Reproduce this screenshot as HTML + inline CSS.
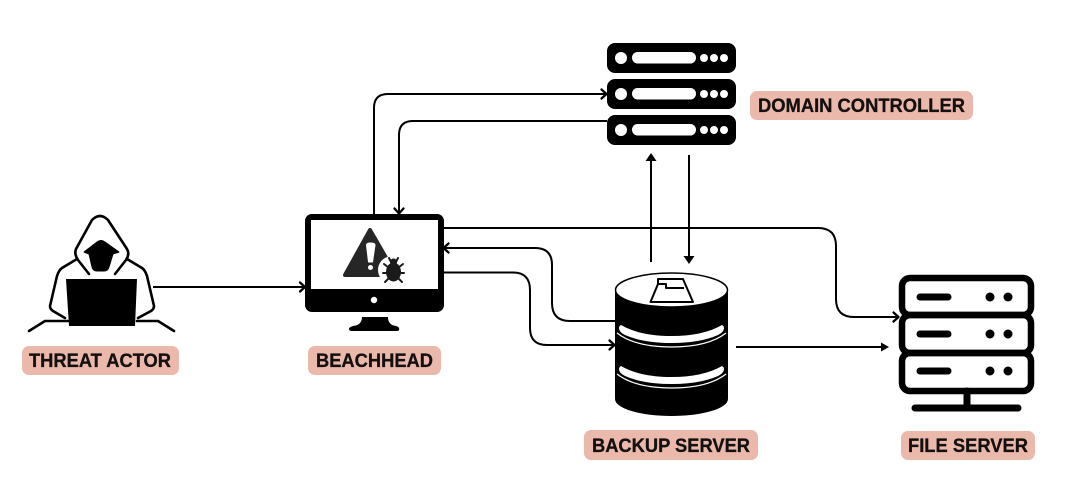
<!DOCTYPE html>
<html><head><meta charset="utf-8"><style>
html,body{margin:0;padding:0;background:#fff;width:1080px;height:503px;overflow:hidden}
svg{display:block}
text{font-family:"Liberation Sans",sans-serif;font-weight:700;font-size:19px;fill:#141010;stroke:#141010;stroke-width:.3;text-anchor:start}
.c{fill:none;stroke:#000;stroke-width:2}
.h{fill:none;stroke:#000;stroke-width:2.300;stroke-linecap:round;stroke-linejoin:round}
.o{fill:none;stroke:#000;stroke-width:2.600;stroke-linecap:round;stroke-linejoin:round}
</style></head><body>
<svg width="1080" height="503" viewBox="0 0 1080 503" xmlns="http://www.w3.org/2000/svg">
<rect width="1080" height="503" fill="#fff"/>

<!-- connectors -->
<path class="c" d="M153 287H304"/><path class="h" d="M300 282.500l5 4.500-5 4.500"/>
<path class="c" d="M374 214V108Q374 94 388 94H606"/><path class="h" d="M601.500 89.500l5 4.500-5 4.500"/>
<path class="c" d="M607 121H413Q399 121 399 135V213"/><path class="h" d="M394.500 208.500l4.500 5 4.500-5"/>
<path class="c" d="M651 262V158"/><path d="M651 153l-5.500 8h11z"/>
<path class="c" d="M689 155V259"/><path d="M689 264l-5.500-8h11z"/>
<path class="c" d="M443 228H818Q836 228 836 246V299Q836 317 854 317H898"/><path class="h" d="M893.500 312.500l5 4.500-5 4.500"/>
<path class="c" d="M615 321H570Q552 321 552 303V265Q552 248 535 248H444"/><path class="h" d="M448.500 243.500l-5 4.500 5 4.500"/>
<path class="c" d="M443 272.500H513Q530 272.500 530 290V328Q530 345 547 345H614"/><path class="h" d="M609.500 340.500l5 4.500-5 4.500"/>
<path class="c" d="M736 347H884"/><path d="M889 347l-8-4.500v9z"/>

<!-- threat actor -->
<path class="o" d="M89 274L78 260Q74 254 76 249L92 220Q100 212 108 220L127 249Q130 254 126 260L115 274"/>
<path class="o" d="M77 259L62 268Q59 270 57 276L50 306Q50 309 53 311L65 318"/>
<path class="o" d="M127 259L142 268Q145 270 147 276L154 306Q154 309 151 311L138 318"/>
<path class="o" d="M29 331L45 321H68M137 321H158L174 331"/>
<path d="M66 279H137L135 326H69Z"/>
<path d="M84 252L97 242Q101 239 105 242L119 252L113 254L109 267Q108 271 104 271H97Q93 271 92 267L89 254Z" stroke="#000" stroke-linejoin="round"/>

<!-- monitor -->
<rect x="305" y="214" width="139" height="98" rx="7"/>
<rect x="311" y="220" width="127" height="69" fill="#fff"/>
<circle cx="374" cy="300" r="3.200" fill="#fff"/>
<path d="M362 317H388Q388 325 396 326Q400 327 399 330Q399 331 396 331H352Q349 331 349 329Q349 327 353 326Q362 325 362 317Z"/>
<path d="M370 230L396 275H345Z" fill="#262626" stroke="#262626" stroke-width="4" stroke-linejoin="round"/>
<path d="M366.500 245Q366.500 243 370.500 243Q375 243 375 245L372.500 262H368.500Z" fill="#fff" stroke="#fff" stroke-linejoin="round"/>
<circle cx="370.500" cy="267.500" r="2.500" fill="#fff"/>
<circle cx="392" cy="270" r="14" fill="#fff"/>
<ellipse cx="393.500" cy="272" rx="7.500" ry="9.500" fill="#1a1a1a"/>
<circle cx="393.500" cy="262" r="3.500" fill="#1a1a1a"/>
<path d="M389 258l2 4M398 258l-2 4M384 264l5 4M403 264l-5 4M383 273h21M385 282l4-4M402 282l-4-4" stroke="#1a1a1a" stroke-width="2" fill="none" stroke-linecap="round"/>

<!-- domain controller -->
<g><rect x="607" y="43" width="129" height="30" rx="8"/><circle cx="621" cy="58" r="6" fill="#fff"/><rect x="632" y="52" width="64" height="11.500" rx="5.700" fill="#fff"/><circle cx="704" cy="58" r="4" fill="#fff"/><circle cx="714" cy="58" r="4" fill="#fff"/><circle cx="724" cy="58" r="4" fill="#fff"/></g>
<g><rect x="607" y="79" width="129" height="30" rx="8"/><circle cx="621" cy="94" r="6" fill="#fff"/><rect x="632" y="88" width="64" height="11.500" rx="5.700" fill="#fff"/><circle cx="704" cy="94" r="4" fill="#fff"/><circle cx="714" cy="94" r="4" fill="#fff"/><circle cx="724" cy="94" r="4" fill="#fff"/></g>
<g><rect x="607" y="115" width="129" height="30" rx="8"/><circle cx="621" cy="130" r="6" fill="#fff"/><rect x="632" y="124" width="64" height="11.500" rx="5.700" fill="#fff"/><circle cx="704" cy="130" r="4" fill="#fff"/><circle cx="714" cy="130" r="4" fill="#fff"/><circle cx="724" cy="130" r="4" fill="#fff"/></g>

<!-- database -->
<path d="M615 290H728V399A56.500 17 0 0 1 615 399Z"/>
<ellipse cx="671.500" cy="290" rx="56" ry="17" fill="#fff" stroke="#000" stroke-width="1.500"/>
<path d="M619 328Q619 326 621 325Q640 336 671.500 336Q703 336 722 325Q724 326 724 328Q724 332 718 335Q700 343 671.500 343Q643 343 625 335Q619 332 619 328Z" fill="#fff"/>
<path d="M617 333Q635 347 671.500 347Q708 347 726 333" fill="none" stroke="#fff" stroke-width="1.200"/>
<path d="M619 369Q619 367 621 366Q640 377 671.500 377Q703 377 722 366Q724 367 724 369Q724 373 718 376Q700 384 671.500 384Q643 384 625 376Q619 373 619 369Z" fill="#fff"/>
<path d="M617 374Q635 388 671.500 388Q708 388 726 374" fill="none" stroke="#fff" stroke-width="1.200"/>
<path d="M650.500 302L658 284V279H683L693 302ZM658 284H666V288H684" fill="none" stroke="#000" stroke-width="2" stroke-linejoin="round"/>

<!-- file server -->
<g fill="none" stroke="#000" stroke-width="6.500">
<rect x="902" y="278" width="129" height="37" rx="8"/>
<rect x="902" y="315" width="129" height="38" rx="8"/>
<rect x="902" y="353" width="129" height="38" rx="8"/>
</g>
<path d="M920 297H948M920 334H948M920 371H948M967 391V408M915 408H1018" fill="none" stroke="#000" stroke-width="7" stroke-linecap="round"/>
<circle cx="990" cy="297" r="4.500"/><circle cx="1008" cy="297" r="4.500"/>
<circle cx="990" cy="334" r="4.500"/><circle cx="1008" cy="334" r="4.500"/>
<circle cx="990" cy="371" r="4.500"/><circle cx="1008" cy="371" r="4.500"/>

<!-- labels -->
<rect x="22" y="346" width="157" height="29" rx="7" fill="#ebb9ac"/>
<text x="29" y="367" textLength="142" lengthAdjust="spacingAndGlyphs">THREAT ACTOR</text>
<rect x="308" y="346" width="133" height="29" rx="7" fill="#ebb9ac"/>
<text x="316" y="367" textLength="117" lengthAdjust="spacingAndGlyphs">BEACHHEAD</text>
<rect x="750" y="91" width="223" height="29" rx="7" fill="#ebb9ac"/>
<text x="758" y="112" textLength="207" lengthAdjust="spacingAndGlyphs">DOMAIN CONTROLLER</text>
<rect x="584" y="430" width="174" height="30" rx="7" fill="#ebb9ac"/>
<text x="592" y="452" textLength="158" lengthAdjust="spacingAndGlyphs">BACKUP SERVER</text>
<rect x="901" y="431" width="134" height="29" rx="7" fill="#ebb9ac"/>
<text x="908" y="452" textLength="120" lengthAdjust="spacingAndGlyphs">FILE SERVER</text>
</svg>
</body></html>
